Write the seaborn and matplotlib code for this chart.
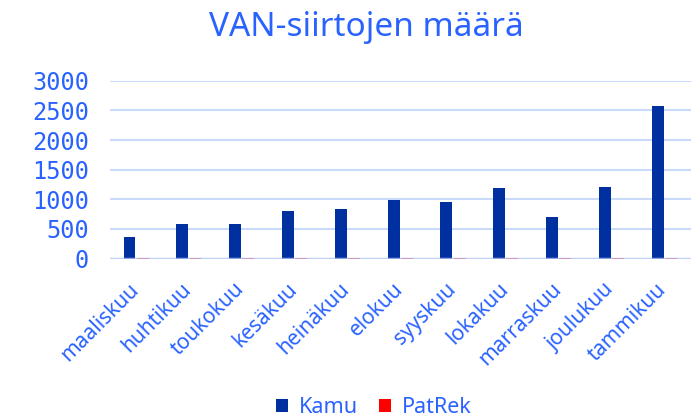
import matplotlib
matplotlib.use("Agg")
import matplotlib.pyplot as plt
import matplotlib.transforms as mtransforms
import seaborn as sns
import pandas as pd

months = ["maaliskuu", "huhtikuu", "toukokuu", "kesäkuu", "heinäkuu", "elokuu",
          "syyskuu", "lokakuu", "marraskuu", "joulukuu", "tammikuu"]
kamu = [358, 588, 583, 802, 836, 988, 954, 1191, 696, 1208, 2576]
patrek = [2, 6, 16, 2, 6, 12, 6, 2, 1, 1, 1]
series_names = ["Kamu", "PatRek"]
yticks = [0, 500, 1000, 1500, 2000, 2500, 3000]

df = pd.DataFrame({
    "kk": months * 2,
    "arvo": kamu + patrek,
    "sarja": [series_names[0]] * len(months) + [series_names[1]] * len(months),
})

sns.set_theme(style="white")
plt.rcParams["font.family"] = ["Noto Sans", "DejaVu Sans"]

TXT = "#2962FF"
fig = plt.figure(figsize=(6.99, 4.19), dpi=100)
ax = fig.add_axes([0.157, 0.383, 0.831, 0.424])

sns.barplot(data=df, x="kk", y="arvo", hue="sarja", ax=ax,
            palette={"Kamu": "#0030A0", "PatRek": "#FF0000"},
            width=0.5, gap=0.1, saturation=1, legend=True, zorder=3,
            linewidth=0)

ax.set_ylim(0, 3000)
ax.set_xlim(-0.5, len(months) - 0.5)
ax.set_yticks(yticks)
ax.set_yticklabels([str(v) for v in yticks], fontfamily="DejaVu Sans Mono",
                   fontsize=17, color=TXT)
ax.tick_params(axis="y", length=0, pad=15)
ax.tick_params(axis="x", length=0, pad=6)
offset = mtransforms.ScaledTranslation(-8 / 100, -12 / 100, fig.dpi_scale_trans)
for lbl in ax.get_xticklabels():
    lbl.set_rotation(45)
    lbl.set_ha("right")
    lbl.set_rotation_mode("anchor")
    lbl.set_fontsize(15)
    lbl.set_color(TXT)
    lbl.set_transform(lbl.get_transform() + offset)
ax.set_xlabel("")
ax.set_ylabel("")
for s in ax.spines.values():
    s.set_visible(False)
ax.grid(axis="y", color="#C9DAFB", linewidth=1.5, zorder=0)
ax.axhline(0, color="#BCCFFA", alpha=0.75, linewidth=2.5, zorder=4)

handles, labels = ax.get_legend_handles_labels()
ax.legend_.remove()
fig.legend(handles, labels, loc="lower center", bbox_to_anchor=(0.535, -0.045),
           ncol=2, frameon=False, fontsize=15.5, labelcolor=TXT,
           handlelength=0.55, handleheight=0.55, handletextpad=0.5,
           columnspacing=1.0)

fig.text(366 / 699, 1 - 28 / 419, "VAN-siirtojen määrä", ha="center", va="center",
         fontsize=24, color=TXT)

fig.savefig("out.png", dpi=100)
